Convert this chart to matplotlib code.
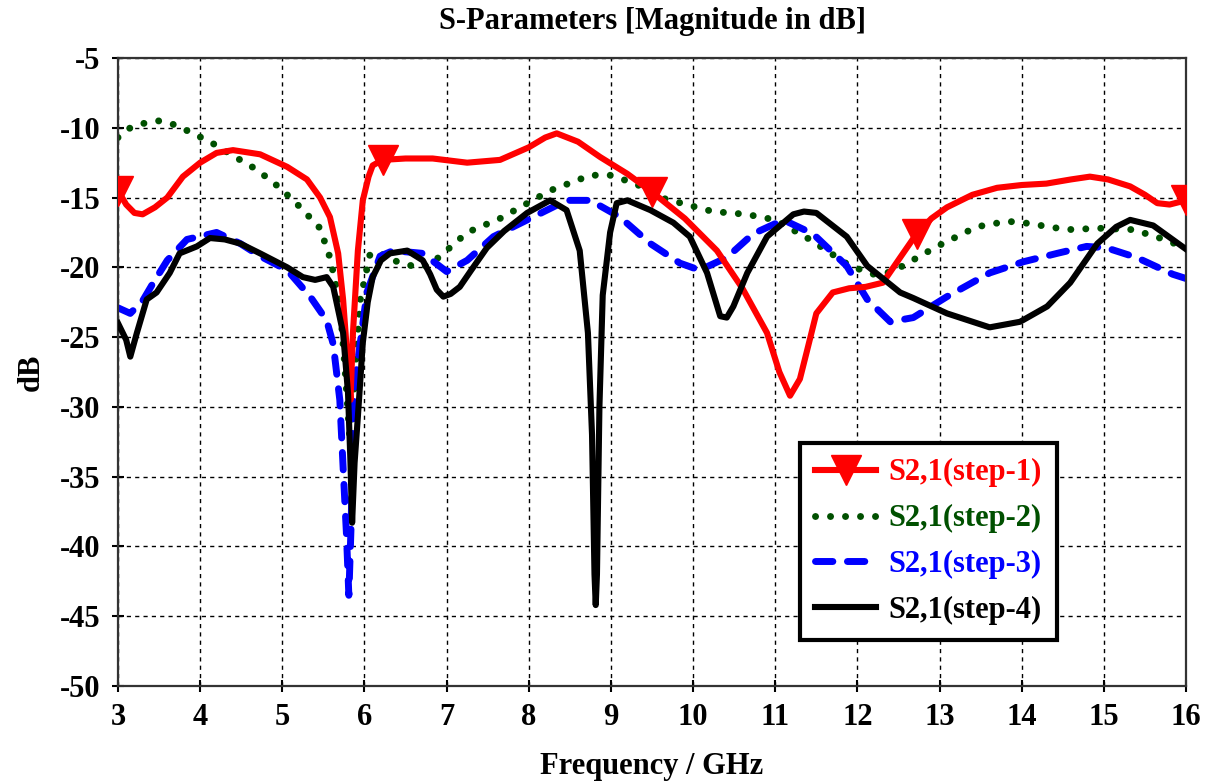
import matplotlib
matplotlib.use("Agg")
import matplotlib.pyplot as plt

plt.rcParams['font.family'] = ['Liberation Serif', 'DejaVu Serif']
plt.rcParams['font.weight'] = 'bold'
plt.rcParams['axes.unicode_minus'] = False

# step-1 (red, triangle markers)
red_f = [3.0, 3.1, 3.2, 3.3, 3.45, 3.6, 3.79, 4.0, 4.2, 4.4, 4.73, 5.06, 5.3, 5.46, 5.58, 5.68, 5.74, 5.8, 5.83,
         5.86, 5.92, 5.98, 6.05, 6.1, 6.22, 6.5, 6.83, 7.25, 7.65, 8.0, 8.2, 8.34, 8.6, 8.87,
         9.2, 9.5, 9.9, 10.29, 10.6, 10.9, 11.05, 11.18, 11.3, 11.39, 11.5, 11.7, 11.9,
         12.1, 12.31, 12.52, 12.72, 12.9, 13.09, 13.4, 13.7, 14.0, 14.3, 14.6, 14.83,
         15.05, 15.32, 15.5, 15.65, 15.8, 16.0]
red_db = [-14.5, -15.5, -16.1, -16.2, -15.7, -15.0, -13.5, -12.5, -11.8, -11.6, -11.9, -12.8, -13.7, -15.0, -16.4, -19.0, -22.3, -27.1, -29.5,
          -24.7, -18.8, -15.2, -13.5, -12.7, -12.3, -12.2, -12.2, -12.5, -12.3, -11.4, -10.7, -10.4, -11.0, -12.1,
          -13.3, -14.6, -16.5, -18.8, -21.5, -24.7, -27.5, -29.2, -28.0, -25.9, -23.3, -21.8, -21.5,
          -21.4, -21.1, -19.3, -17.6, -16.5, -15.7, -14.8, -14.3, -14.1, -14.0, -13.7, -13.5,
          -13.7, -14.2, -14.8, -15.4, -15.5, -15.2]
red_marks = [3.0, 6.22, 9.5, 12.72, 16.0]

# step-2 (green, dotted)
green_f = [3.0, 3.15, 3.3, 3.49, 3.65, 3.84, 4.12, 4.4, 4.69, 4.97, 5.22, 5.46, 5.58, 5.7, 5.76,
           5.83, 5.88, 5.95, 6.07, 6.2, 6.35, 6.64, 6.8, 6.96, 7.25, 7.65, 8.26, 8.75, 8.99,
           9.3, 9.6, 10.24, 10.65, 11.0, 11.42, 11.91, 12.2, 12.36, 12.52, 12.97, 13.45,
           13.82, 14.02, 14.55, 14.95, 15.36, 15.68, 16.0]
green_db = [-10.7, -10.0, -9.7, -9.5, -9.7, -10.2, -11.0, -12.0, -13.0, -14.3, -15.7, -17.2, -19.3, -22.5, -27.0,
            -33.0, -28.0, -22.3, -19.0, -19.0, -19.5, -20.0, -19.8, -19.0, -17.5, -16.5, -14.5, -13.4, -13.4,
            -14.0, -15.0, -16.0, -16.2, -16.6, -18.0, -19.9, -20.5, -20.4, -20.0, -18.5, -17.1,
            -16.7, -16.8, -17.3, -17.2, -17.3, -17.9, -18.6]

# step-3 (blue, dashed)
blue_f = [3.0, 3.15, 3.3, 3.43, 3.6, 3.84, 4.2, 4.49, 4.73, 5.06, 5.34, 5.54, 5.62, 5.7, 5.74,
          5.78, 5.81, 5.84, 5.86, 5.9, 5.95, 6.03, 6.19, 6.35, 6.71, 7.0, 7.25, 7.57, 8.05,
          8.46, 8.75, 9.11, 9.48, 9.84, 10.08, 10.41, 10.73, 11.1, 11.46, 11.87, 12.12, 12.4,
          12.68, 13.09, 13.61, 14.02, 14.43, 14.79, 15.03, 15.4, 15.84, 16.0]
blue_db = [-22.9, -23.3, -22.4, -21.1, -19.5, -18.0, -17.5, -18.3, -19.2, -20.2, -22.1, -23.8, -25.5, -29.5, -34.3,
           -39.0, -43.5, -38.0, -30.7, -27.5, -25.4, -21.8, -19.2, -18.8, -19.0, -20.3, -19.5, -17.8, -16.4,
           -15.2, -15.2, -16.4, -18.3, -19.7, -20.2, -19.3, -17.6, -16.6, -17.6, -19.9, -22.3, -23.9,
           -23.6, -22.1, -20.4, -19.6, -19.0, -18.5, -18.6, -19.3, -20.5, -20.8]

# step-4 (black, solid)
black_f = [3.0, 3.1, 3.15, 3.23, 3.35, 3.47, 3.63, 3.75, 3.96, 4.12, 4.3, 4.49, 4.73, 5.06, 5.25,
           5.4, 5.54, 5.62, 5.74, 5.8, 5.83, 5.85, 5.88, 5.92, 5.98, 6.04, 6.1, 6.2, 6.31, 6.52,
           6.71, 6.8, 6.88, 6.96, 7.05, 7.16, 7.3, 7.49, 7.7, 7.98, 8.26, 8.46, 8.62, 8.72, 8.77, 8.8, 8.815, 8.83,
           8.86, 8.9, 8.99, 9.07, 9.2, 9.48, 9.76, 9.96, 10.17, 10.33, 10.41, 10.49, 10.66, 10.9,
           11.22, 11.35, 11.5, 11.87, 12.12, 12.52, 12.68, 13.09, 13.61, 13.98, 14.31, 14.59, 14.92,
           15.15, 15.32, 15.6, 16.0]
black_db = [-24.0, -25.2, -26.4, -24.7, -22.3, -21.8, -20.4, -19.0, -18.5, -17.9, -18.0, -18.3, -19.0, -20.0, -20.7,
            -20.9, -20.7, -21.4, -24.7, -29.0, -34.0, -38.3, -34.0, -30.7, -25.4, -22.5, -20.7, -19.5, -19.0, -18.8,
            -19.5, -20.5, -21.6, -22.1, -21.9, -21.4, -20.2, -18.6, -17.4, -16.1, -15.2, -15.9, -18.8, -24.7, -32.0, -42.0, -44.2, -42.0,
            -30.0, -22.0, -17.5, -15.4, -15.2, -15.9, -16.8, -17.8, -20.4, -23.5, -23.6, -22.8, -20.4, -17.8,
            -16.2, -16.0, -16.1, -17.8, -19.9, -21.8, -22.2, -23.3, -24.3, -23.9, -22.8, -21.1, -18.3,
            -17.1, -16.6, -17.0, -18.7]

xticks = list(range(3, 17))
yticks = list(range(-50, -4, 5))

fig = plt.figure(figsize=(12.1, 7.84), dpi=100)
ax = fig.add_axes([0.0975, 0.125, 0.8827, 0.801])

mark_idx = [red_f.index(m) for m in red_marks]
ax.plot(red_f, red_db, color='#ff0000', lw=4.4, marker='v', markersize=22,
        markevery=mark_idx, solid_joinstyle='round', label='S2,1(step-1)', zorder=3)
ax.plot(green_f, green_db, color='#005000', lw=5.0, linestyle=(0, (0.01, 2.15)),
        dash_capstyle='round', solid_joinstyle='round', label='S2,1(step-2)', zorder=2)
ax.plot(blue_f, blue_db, color='#0000ff', lw=5.0, linestyle=(0, (2.5, 2.1)),
        dash_capstyle='round', dash_joinstyle='round', label='S2,1(step-3)', zorder=2.5)
ax.plot(black_f, black_db, color='black', lw=4.4, solid_joinstyle='round',
        label='S2,1(step-4)', zorder=4)

ax.set_xlim(3, 16)
ax.set_ylim(-50, -5)
ax.set_xticks(xticks)
ax.set_yticks(yticks)
ax.grid(True, color='black', linestyle=(0, (3, 3)), lw=1.0)
ax.tick_params(direction='inout', length=9, width=1.5, labelsize=22, pad=8)
for lab in ax.get_xticklabels() + ax.get_yticklabels():
    lab.set_fontweight('bold')
for sp in ax.spines.values():
    sp.set_color('#333333')
    sp.set_linewidth(1.6)

ax.set_title('S-Parameters [Magnitude in dB]', fontsize=22, fontweight='bold', pad=21)
ax.set_xlabel('Frequency / GHz', fontsize=22, fontweight='bold', labelpad=14)
ax.set_ylabel('dB', fontsize=22, fontweight='bold', labelpad=10)

leg = ax.legend(loc='upper left', bbox_to_anchor=(0.6386, 0.387), fontsize=22,
                frameon=True, fancybox=False, framealpha=1, edgecolor='black',
                handlelength=2.0, labelcolor='linecolor', borderpad=0.5,
                labelspacing=0.55, handletextpad=0.4, borderaxespad=0)
leg.get_frame().set_linewidth(3)
leg.set_zorder(10)

fig.savefig('out.png', dpi=100)
